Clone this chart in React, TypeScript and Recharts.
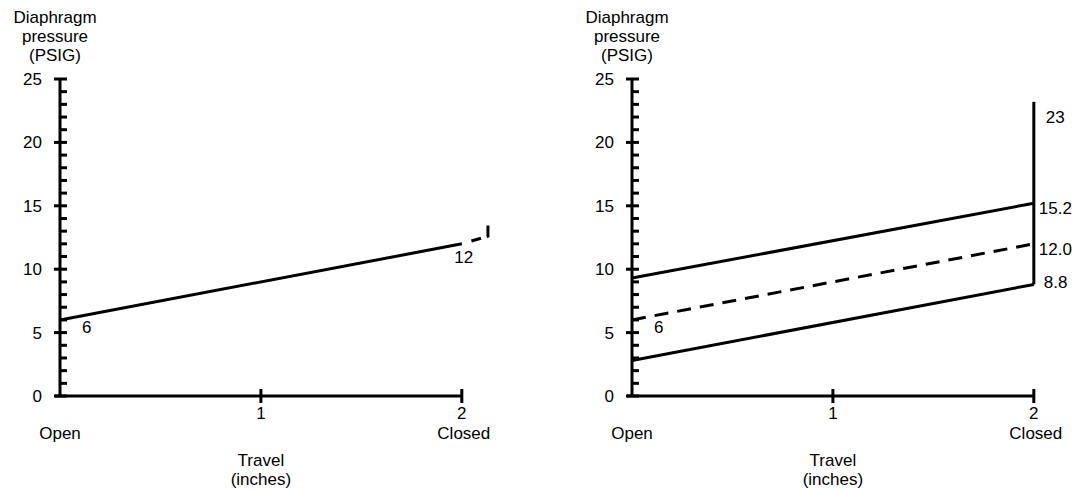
import React from 'react';
import { LineChart, Line, XAxis, YAxis, ReferenceLine, LabelList } from 'recharts';

// travel positions (inches) for the straight bench lines
const travel = [0, 2];

// left panel: bench set line and the cut-off dashed piece at the right edge
const benchLeft = [6, 12];
const benchLeftLabels = ['6', '12'];
const stubTravel = [2, 2.13, 2.13];
const stubPressure = [12, 12.6, 14.5];

// right panel: range lines
const upperRange = [9.3, 15.2];
const upperLabels = ['', '15.2'];
const benchRight = [6, 12.0];
const benchRightLabels = ['6', '12.0'];
const lowerRange = [2.8, 8.8];
const lowerLabels = ['', '8.8'];
const closedTravel = [2, 2];
const closedPressure = [8.8, 23.2];
const closedLabels = ['', '23'];

// axes
const pressureTicks = Array.from({ length: 26 }, (_, i) => i);
const travelTicks = [0, 1, 2];
const travelNumbers = ['', '1', '2'];
const travelEnds = ['Open', '', 'Closed'];
const yTitle = ['Diaphragm', 'pressure', '(PSIG)'];
const xTitle = ['Travel', '(inches)'];

const toPoints = (xs: number[], ys: number[]) => xs.map((x, i) => ({ x, y: ys[i] }));

const FONT = '"Liberation Sans", Arial, sans-serif';
const FS = 17;

const PressureTick = (props: any) => {
  const { x, y, payload } = props;
  const v = payload.value;
  const major = v % 5 === 0;
  return (
    <g>
      <line x1={major ? x - 6 : x} x2={x + 7} y1={y} y2={y} stroke="#000" strokeWidth={3} />
      {major && (
        <text x={x - 18} y={y + 6} textAnchor="end" fontSize={FS} fontFamily={FONT} fill="#000">
          {v}
        </text>
      )}
      {v === 25 &&
        yTitle.map((t, i) => (
          <text key={t} x={x - 5} y={y - 56 + i * 19} textAnchor="middle" fontSize={FS} fontFamily={FONT} fill="#000">
            {t}
          </text>
        ))}
    </g>
  );
};

const TravelTick = (props: any) => {
  const { x, y, payload } = props;
  const i = travelTicks.indexOf(payload.value);
  return (
    <g>
      {i > 0 && <line x1={x} x2={x} y1={y - 7} y2={y + 7} stroke="#000" strokeWidth={3} />}
      {travelNumbers[i] && (
        <text x={x} y={y + 23} textAnchor="middle" fontSize={FS} fontFamily={FONT} fill="#000">
          {travelNumbers[i]}
        </text>
      )}
      {travelEnds[i] && (
        <text x={x + (i === 2 ? 2 : 0)} y={y + 43} textAnchor="middle" fontSize={FS} fontFamily={FONT} fill="#000">
          {travelEnds[i]}
        </text>
      )}
      {payload.value === 1 &&
        xTitle.map((t, k) => (
          <text key={t} x={x} y={y + 70 + k * 19} textAnchor="middle" fontSize={FS} fontFamily={FONT} fill="#000">
            {t}
          </text>
        ))}
    </g>
  );
};

const pointLabel = (labels: string[], dx: number, dy: number, anchor = 'start') => (props: any) => {
  const { x, y, index } = props;
  const t = labels[index];
  if (!t) return null;
  return (
    <text x={x + dx} y={y + dy} textAnchor={anchor} fontSize={FS} fontFamily={FONT} fill="#000">
      {t}
    </text>
  );
};

const lineProps = {
  type: 'linear' as const,
  dataKey: 'y',
  stroke: '#000',
  strokeWidth: 3,
  dot: false,
  activeDot: false,
  isAnimationActive: false,
};

const Panel = ({ yWidth, right, children }: { yWidth: number; right: number; children: React.ReactNode }) => (
  <LineChart width={540} height={490} margin={{ top: 79, right, bottom: 0, left: 0 }}>
    <XAxis
      type="number"
      dataKey="x"
      domain={[0, 2.2]}
      ticks={travelTicks}
      height={94}
      axisLine={false}
      tickLine={false}
      tickSize={0}
      tickMargin={0}
      tick={(p: any) => <TravelTick {...p} />}
      interval={0}
    />
    <YAxis
      type="number"
      domain={[0, 25]}
      ticks={pressureTicks}
      width={yWidth}
      axisLine={{ stroke: '#000', strokeWidth: 3 }}
      tickLine={false}
      tickSize={0}
      tickMargin={0}
      tick={(p: any) => <PressureTick {...p} />}
      interval={0}
    />
    <ReferenceLine
      segment={[{ x: -0.025, y: 0 }, { x: 2, y: 0 }]}
      stroke="#000"
      strokeWidth={3}
      ifOverflow="visible"
    />
    {children}
  </LineChart>
);

export default function App() {
  return (
    <div style={{ position: 'absolute', left: 0, top: 0, width: 1080, height: 490, background: '#fff', fontFamily: FONT, display: 'flex' }}>
      <Panel yWidth={60} right={38}>
        <Line {...lineProps} data={toPoints(travel, benchLeft)}>
          <LabelList
            dataKey="y"
            content={((p: any) =>
              p.index === 0
                ? pointLabel(benchLeftLabels, 22, 13)(p)
                : pointLabel(benchLeftLabels, 2, 19, 'middle')(p)) as any}
          />
        </Line>
        <Line {...lineProps} data={toPoints(stubTravel, stubPressure)} strokeDasharray="0 10 10 6 12 8" />
      </Panel>
      <Panel yWidth={92} right={6}>
        <Line {...lineProps} data={toPoints(travel, upperRange)}>
          <LabelList dataKey="y" content={pointLabel(upperLabels, 5, 11) as any} />
        </Line>
        <Line {...lineProps} data={toPoints(travel, benchRight)} strokeDasharray="14 9">
          <LabelList
            dataKey="y"
            content={((p: any) =>
              p.index === 0 ? pointLabel(benchRightLabels, 22, 13)(p) : pointLabel(benchRightLabels, 5, 11)(p)) as any}
          />
        </Line>
        <Line {...lineProps} data={toPoints(travel, lowerRange)}>
          <LabelList dataKey="y" content={pointLabel(lowerLabels, 10, 4) as any} />
        </Line>
        <Line {...lineProps} data={toPoints(closedTravel, closedPressure)}>
          <LabelList dataKey="y" content={pointLabel(closedLabels, 12, 21) as any} />
        </Line>
      </Panel>
    </div>
  );
}
